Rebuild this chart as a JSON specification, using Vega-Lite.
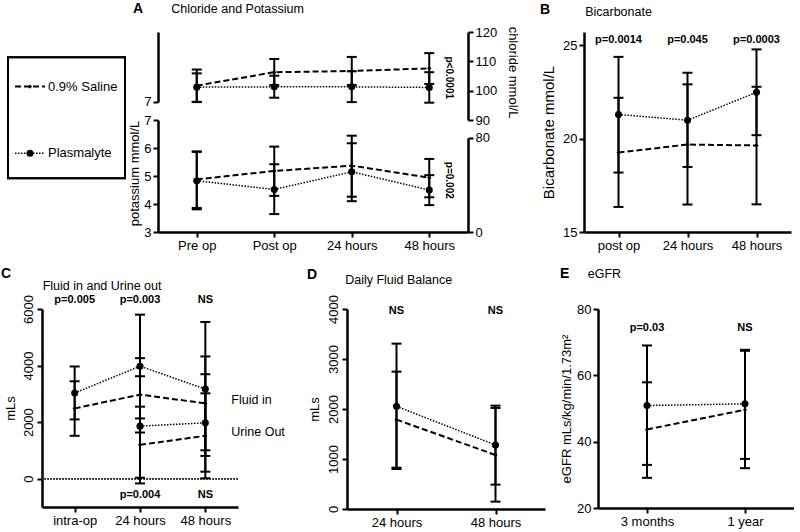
{
"$schema": "https://vega.github.io/schema/vega-lite/v6.json",
"padding": {"left": 1, "top": 2, "right": 0, "bottom": 0},
"config": {
  "font": "Liberation Sans",
  "view": {"stroke": null},
  "axis": {"domainColor": "black", "domainWidth": 2.5, "tickColor": "black", "tickWidth": 2, "tickSize": 5, "labelColor": "black", "labelFont": "Liberation Sans", "labelFontSize": 13, "titleFont": "Liberation Sans", "titleFontSize": 13, "titleFontWeight": "normal", "titleColor": "black", "grid": false, "labelPadding": 2, "titlePadding": 4},
  "title": {"font": "Liberation Sans", "fontSize": 14, "fontWeight": "bold", "color": "black", "anchor": "start", "frame": "group", "subtitleFont": "Liberation Sans", "subtitleFontSize": 12.5, "subtitleColor": "black", "subtitleFontWeight": "normal"}
},
"datasets": {
  "legend": [{"series": "0.9% Saline"}, {"series": "Plasmalyte"}],
  "chloride": [
    {"time": "Pre op", "series": "0.9% Saline", "mean": 101.7, "lo": 96.1, "hi": 107.2},
    {"time": "Post op", "series": "0.9% Saline", "mean": 106.3, "lo": 101.9, "hi": 110.8},
    {"time": "24 hours", "series": "0.9% Saline", "mean": 106.7, "lo": 101.9, "hi": 111.5},
    {"time": "48 hours", "series": "0.9% Saline", "mean": 107.6, "lo": 102.3, "hi": 112.8},
    {"time": "Pre op", "series": "Plasmalyte", "mean": 101.2, "lo": 96.2, "hi": 105.9},
    {"time": "Post op", "series": "Plasmalyte", "mean": 101.3, "lo": 97.6, "hi": 105.1},
    {"time": "24 hours", "series": "Plasmalyte", "mean": 101.3, "lo": 96.1, "hi": 106.6},
    {"time": "48 hours", "series": "Plasmalyte", "mean": 101.1, "lo": 95.9, "hi": 106.3}
  ],
  "potassium": [
    {"time": "Pre op", "series": "0.9% Saline", "mean": 4.88, "lo": 3.86, "hi": 5.88},
    {"time": "Post op", "series": "0.9% Saline", "mean": 5.18, "lo": 4.29, "hi": 6.05},
    {"time": "24 hours", "series": "0.9% Saline", "mean": 5.37, "lo": 4.26, "hi": 6.44},
    {"time": "48 hours", "series": "0.9% Saline", "mean": 4.94, "lo": 4.24, "hi": 5.61},
    {"time": "Pre op", "series": "Plasmalyte", "mean": 4.83, "lo": 3.81, "hi": 5.86},
    {"time": "Post op", "series": "Plasmalyte", "mean": 4.52, "lo": 3.64, "hi": 5.42},
    {"time": "24 hours", "series": "Plasmalyte", "mean": 5.15, "lo": 4.10, "hi": 6.17},
    {"time": "48 hours", "series": "Plasmalyte", "mean": 4.50, "lo": 3.96, "hi": 5.03}
  ],
  "pA1": [{"time": "48 hours", "label": "p<0.0001", "y": 104.4}],
  "pA2": [{"time": "48 hours", "label": "p=0.002", "y": 44.0}],
  "bicarb": [
    {"time": "post op", "series": "0.9% Saline", "mean": 19.25, "lo": 16.34, "hi": 22.18},
    {"time": "24 hours", "series": "0.9% Saline", "mean": 19.68, "lo": 16.47, "hi": 22.9},
    {"time": "48 hours", "series": "0.9% Saline", "mean": 19.63, "lo": 16.48, "hi": 22.77},
    {"time": "post op", "series": "Plasmalyte", "mean": 21.29, "lo": 18.18, "hi": 24.37},
    {"time": "24 hours", "series": "Plasmalyte", "mean": 20.98, "lo": 18.48, "hi": 23.52},
    {"time": "48 hours", "series": "Plasmalyte", "mean": 22.47, "lo": 20.18, "hi": 24.77}
  ],
  "pB": [
    {"time": "post op", "label": "p=0.0014", "y": 25.27},
    {"time": "24 hours", "label": "p=0.045", "y": 25.27},
    {"time": "48 hours", "label": "p=0.0003", "y": 25.27}
  ],
  "fluid": [
    {"time": "intra-op", "series": "0.9% Saline", "measure": "Fluid in", "mean": 2486, "lo": 1517, "hi": 3445},
    {"time": "24 hours", "series": "0.9% Saline", "measure": "Fluid in", "mean": 2973, "lo": 1634, "hi": 4262},
    {"time": "48 hours", "series": "0.9% Saline", "measure": "Fluid in", "mean": 2664, "lo": 1005, "hi": 4323},
    {"time": "intra-op", "series": "Plasmalyte", "measure": "Fluid in", "mean": 3030, "lo": 2096, "hi": 3968},
    {"time": "24 hours", "series": "Plasmalyte", "measure": "Fluid in", "mean": 3978, "lo": 2131, "hi": 5800},
    {"time": "48 hours", "series": "Plasmalyte", "measure": "Fluid in", "mean": 3172, "lo": 806, "hi": 5541},
    {"time": "24 hours", "series": "0.9% Saline", "measure": "Urine out", "mean": 1197, "lo": -167, "hi": 2547},
    {"time": "48 hours", "series": "0.9% Saline", "measure": "Urine out", "mean": 1517, "lo": 15, "hi": 3019},
    {"time": "24 hours", "series": "Plasmalyte", "measure": "Urine out", "mean": 1858, "lo": 35, "hi": 3623},
    {"time": "48 hours", "series": "Plasmalyte", "measure": "Urine out", "mean": 1978, "lo": 249, "hi": 3694}
  ],
  "pC": [
    {"time": "intra-op", "label": "p=0.005", "y": 6310},
    {"time": "24 hours", "label": "p=0.003", "y": 6310},
    {"time": "48 hours", "label": "NS", "y": 6310},
    {"time": "24 hours", "label": "p=0.004", "y": -586},
    {"time": "48 hours", "label": "NS", "y": -586}
  ],
  "labC": [
    {"time": "48 hours", "label": "Fluid in", "y": 2773},
    {"time": "48 hours", "label": "Urine Out", "y": 1642}
  ],
  "balance": [
    {"time": "24 hours", "series": "0.9% Saline", "mean": 1787, "lo": 827, "hi": 2747},
    {"time": "48 hours", "series": "0.9% Saline", "mean": 1080, "lo": 147, "hi": 2020},
    {"time": "24 hours", "series": "Plasmalyte", "mean": 2053, "lo": 800, "hi": 3307},
    {"time": "48 hours", "series": "Plasmalyte", "mean": 1280, "lo": 487, "hi": 2067}
  ],
  "pD": [
    {"time": "24 hours", "label": "NS", "y": 3954},
    {"time": "48 hours", "label": "NS", "y": 3954}
  ],
  "egfr": [
    {"time": "3 months", "series": "0.9% Saline", "mean": 43.7, "lo": 29.1, "hi": 57.9},
    {"time": "1 year", "series": "0.9% Saline", "mean": 49.6, "lo": 32.0, "hi": 67.4},
    {"time": "3 months", "series": "Plasmalyte", "mean": 50.9, "lo": 33.0, "hi": 69.0},
    {"time": "1 year", "series": "Plasmalyte", "mean": 51.4, "lo": 34.8, "hi": 67.7}
  ],
  "pE": [
    {"time": "3 months", "label": "p=0.03", "y": 74.3},
    {"time": "1 year", "label": "NS", "y": 74.3}
  ]
},
"spacing": 14,
"vconcat": [
 {"spacing": 53, "bounds": "flush", "hconcat": [
 {"width": 63, "height": 200,
  "data": {"name": "legend"},
  "layer": [
   {"mark": {"type": "rect", "fill": "white", "fillOpacity": 0, "stroke": "black", "strokeWidth": 2},
    "encoding": {"x": {"datum": 0, "type": "quantitative", "scale": {"domain": [0.2906, 0.8291], "nice": false, "zero": false}, "axis": null}, "x2": {"datum": 1},
                 "y": {"datum": 0, "type": "quantitative", "scale": {"domain": [-0.444, 1.209], "nice": false, "zero": false}, "axis": null}, "y2": {"datum": 1}}},
   {"mark": {"type": "rule", "color": "black"},
    "encoding": {"x": {"datum": 0.06, "type": "quantitative"}, "x2": {"datum": 0.316},
                 "y": {"field": "series", "type": "nominal", "scale": {"type": "point", "padding": 1.318, "align": 0.409}, "axis": null},
                 "strokeDash": {"field": "series", "type": "nominal", "scale": {"domain": ["0.9% Saline", "Plasmalyte"], "range": [[6, 3], [1.5, 1.5]]}, "legend": null},
                 "strokeWidth": {"field": "series", "type": "ordinal", "scale": {"domain": ["0.9% Saline", "Plasmalyte"], "range": [2, 1.5]}, "legend": null}}},
   {"mark": {"type": "point", "filled": true, "opacity": 1, "color": "black"},
    "encoding": {"x": {"datum": 0.188, "type": "quantitative"},
                 "y": {"field": "series", "type": "nominal", "scale": {"type": "point", "padding": 1.318, "align": 0.409}, "axis": null},
                 "shape": {"field": "series", "type": "nominal", "scale": {"domain": ["0.9% Saline", "Plasmalyte"], "range": ["diamond", "circle"]}, "legend": null},
                 "size": {"field": "series", "type": "ordinal", "scale": {"domain": ["0.9% Saline", "Plasmalyte"], "range": [18, 50]}, "legend": null}}},
   {"mark": {"type": "text", "align": "left", "baseline": "middle", "fontSize": 13, "color": "black"},
    "encoding": {"x": {"datum": 0.342, "type": "quantitative"},
                 "y": {"field": "series", "type": "nominal", "scale": {"type": "point", "padding": 1.318, "align": 0.409}, "axis": null},
                 "text": {"field": "series"}}}
  ],
  "resolve": {"scale": {"y": "independent"}}
 },
 {"width": 310, "height": 200,
  "title": {"text": "A", "subtitle": "\u200b\u00a0\u00a0\u00a0\u00a0\u00a0\u00a0\u00a0\u00a0\u00a0\u00a0\u00a0Chloride and Potassium", "subtitlePadding": -13, "dx": -25, "offset": 10},
  "layer": [
   {"data": {"name": "chloride"},
    "layer": [
     {"mark": {"type": "rule", "strokeWidth": 2, "color": "black"},
      "encoding": {"x": {"field": "time", "type": "ordinal", "sort": ["Pre op", "Post op", "24 hours", "48 hours"], "scale": {"type": "point", "padding": 0.5}, "axis": {"title": null, "labelAngle": 0}},
                   "y": {"field": "lo", "type": "quantitative", "scale": {"domain": [51.82, 120], "nice": false, "zero": false}, "axis": {"orient": "right", "values": [90, 100, 110, 120], "title": "chloride mmol/L", "titlePadding": 9, "titleY": 40, "domainDash": [0, 112, 88, 200]}},
                   "y2": {"field": "hi"}}},
     {"mark": {"type": "tick", "thickness": 2, "size": 10, "color": "black", "opacity": 1},
      "encoding": {"x": {"field": "time", "type": "ordinal", "sort": ["Pre op", "Post op", "24 hours", "48 hours"], "scale": {"type": "point", "padding": 0.5}, "axis": {"title": null, "labelAngle": 0}}, "y": {"field": "lo", "type": "quantitative"}}},
     {"mark": {"type": "tick", "thickness": 2, "size": 10, "color": "black", "opacity": 1},
      "encoding": {"x": {"field": "time", "type": "ordinal", "sort": ["Pre op", "Post op", "24 hours", "48 hours"], "scale": {"type": "point", "padding": 0.5}, "axis": {"title": null, "labelAngle": 0}}, "y": {"field": "hi", "type": "quantitative"}}},
     {"mark": {"type": "line", "color": "black"},
      "encoding": {"x": {"field": "time", "type": "ordinal", "sort": ["Pre op", "Post op", "24 hours", "48 hours"], "scale": {"type": "point", "padding": 0.5}, "axis": {"title": null, "labelAngle": 0}}, "y": {"field": "mean", "type": "quantitative"},
                   "strokeDash": {"field": "series", "type": "nominal", "scale": {"domain": ["0.9% Saline", "Plasmalyte"], "range": [[6, 3], [1.5, 1.5]]}, "legend": null},
                   "strokeWidth": {"field": "series", "type": "ordinal", "scale": {"domain": ["0.9% Saline", "Plasmalyte"], "range": [2, 1.5]}, "legend": null}}},
     {"mark": {"type": "point", "filled": true, "opacity": 1, "color": "black"},
      "encoding": {"x": {"field": "time", "type": "ordinal", "sort": ["Pre op", "Post op", "24 hours", "48 hours"], "scale": {"type": "point", "padding": 0.5}, "axis": {"title": null, "labelAngle": 0}}, "y": {"field": "mean", "type": "quantitative"},
                   "shape": {"field": "series", "type": "nominal", "scale": {"domain": ["0.9% Saline", "Plasmalyte"], "range": ["diamond", "circle"]}, "legend": null},
                   "size": {"field": "series", "type": "ordinal", "scale": {"domain": ["0.9% Saline", "Plasmalyte"], "range": [18, 50]}, "legend": null}}}
    ]},
   {"data": {"name": "potassium"},
    "layer": [
     {"mark": {"type": "rule", "strokeWidth": 2, "color": "black"},
      "encoding": {"x": {"field": "time", "type": "ordinal", "sort": ["Pre op", "Post op", "24 hours", "48 hours"], "scale": {"type": "point", "padding": 0.5}, "axis": {"title": null, "labelAngle": 0}},
                   "y": {"field": "lo", "type": "quantitative", "scale": {"domain": [3, 10.143], "nice": false, "zero": false}, "axis": {"orient": "left", "values": [3, 4, 5, 6, 7], "title": "potassium mmol/L", "titlePadding": 2, "titleY": 141, "domainDash": [112, 200]}},
                   "y2": {"field": "hi"}}},
     {"mark": {"type": "tick", "thickness": 2, "size": 10, "color": "black", "opacity": 1},
      "encoding": {"x": {"field": "time", "type": "ordinal", "sort": ["Pre op", "Post op", "24 hours", "48 hours"], "scale": {"type": "point", "padding": 0.5}, "axis": {"title": null, "labelAngle": 0}}, "y": {"field": "lo", "type": "quantitative"}}},
     {"mark": {"type": "tick", "thickness": 2, "size": 10, "color": "black", "opacity": 1},
      "encoding": {"x": {"field": "time", "type": "ordinal", "sort": ["Pre op", "Post op", "24 hours", "48 hours"], "scale": {"type": "point", "padding": 0.5}, "axis": {"title": null, "labelAngle": 0}}, "y": {"field": "hi", "type": "quantitative"}}},
     {"mark": {"type": "line", "color": "black"},
      "encoding": {"x": {"field": "time", "type": "ordinal", "sort": ["Pre op", "Post op", "24 hours", "48 hours"], "scale": {"type": "point", "padding": 0.5}, "axis": {"title": null, "labelAngle": 0}}, "y": {"field": "mean", "type": "quantitative"},
                   "strokeDash": {"field": "series", "type": "nominal", "scale": {"domain": ["0.9% Saline", "Plasmalyte"], "range": [[6, 3], [1.5, 1.5]]}, "legend": null},
                   "strokeWidth": {"field": "series", "type": "ordinal", "scale": {"domain": ["0.9% Saline", "Plasmalyte"], "range": [2, 1.5]}, "legend": null}}},
     {"mark": {"type": "point", "filled": true, "opacity": 1, "color": "black"},
      "encoding": {"x": {"field": "time", "type": "ordinal", "sort": ["Pre op", "Post op", "24 hours", "48 hours"], "scale": {"type": "point", "padding": 0.5}, "axis": {"title": null, "labelAngle": 0}}, "y": {"field": "mean", "type": "quantitative"},
                   "shape": {"field": "series", "type": "nominal", "scale": {"domain": ["0.9% Saline", "Plasmalyte"], "range": ["diamond", "circle"]}, "legend": null},
                   "size": {"field": "series", "type": "ordinal", "scale": {"domain": ["0.9% Saline", "Plasmalyte"], "range": [18, 50]}, "legend": null}}}
    ]},
   {"data": {"name": "pA1"},
    "mark": {"type": "text", "angle": 90, "fontWeight": "bold", "fontSize": 10, "dy": -20, "align": "center", "baseline": "middle", "color": "black"},
    "encoding": {"x": {"field": "time", "type": "ordinal", "sort": ["Pre op", "Post op", "24 hours", "48 hours"], "scale": {"type": "point", "padding": 0.5}, "axis": {"title": null, "labelAngle": 0}},
                 "y": {"field": "y", "type": "quantitative", "scale": {"domain": [51.82, 120], "nice": false, "zero": false}, "axis": {"orient": "left", "values": [96.14], "labelExpr": "'7'", "title": null, "domainDash": [0, 130, 70, 200]}},
                 "text": {"field": "label"}}},
   {"data": {"name": "pA2"},
    "mark": {"type": "text", "angle": 90, "fontWeight": "bold", "fontSize": 10, "dy": -20, "align": "center", "baseline": "middle", "color": "black"},
    "encoding": {"x": {"field": "time", "type": "ordinal", "sort": ["Pre op", "Post op", "24 hours", "48 hours"], "scale": {"type": "point", "padding": 0.5}, "axis": {"title": null, "labelAngle": 0}},
                 "y": {"field": "y", "type": "quantitative", "scale": {"domain": [0, 170.2], "nice": false, "zero": false}, "axis": {"orient": "right", "values": [0, 80], "title": null, "domainDash": [94, 200]}},
                 "text": {"field": "label"}}}
  ],
  "resolve": {"scale": {"y": "independent"}}
 },
 {"width": 10, "height": 200, "data": {"values": [{}]}, "mark": {"type": "text", "text": ""}, "encoding": {}},
 {"width": 207, "height": 200,
  "title": {"text": "B", "subtitle": "\u200b\u00a0\u00a0\u00a0\u00a0\u00a0\u00a0\u00a0\u00a0\u00a0\u00a0\u00a0\u00a0\u00a0Bicarbonate", "subtitlePadding": -11, "dx": -44, "offset": 14},
  "data": {"name": "bicarb"},
  "layer": [
   {"mark": {"type": "rule", "strokeWidth": 2, "color": "black"},
    "encoding": {"x": {"field": "time", "type": "ordinal", "sort": ["post op", "24 hours", "48 hours"], "scale": {"type": "point", "padding": 0.5}, "axis": {"title": null, "labelAngle": 0}},
                 "y": {"field": "lo", "type": "quantitative", "scale": {"domain": [15, 25.7], "nice": false, "zero": false}, "axis": {"values": [15, 20, 25], "title": "Bicarbonate mmol/L", "titleFontSize": 15, "titlePadding": 6}},
                 "y2": {"field": "hi"}}},
   {"mark": {"type": "tick", "thickness": 2, "size": 10, "color": "black", "opacity": 1},
    "encoding": {"x": {"field": "time", "type": "ordinal", "sort": ["post op", "24 hours", "48 hours"], "scale": {"type": "point", "padding": 0.5}, "axis": {"title": null, "labelAngle": 0}}, "y": {"field": "lo", "type": "quantitative"}}},
   {"mark": {"type": "tick", "thickness": 2, "size": 10, "color": "black", "opacity": 1},
    "encoding": {"x": {"field": "time", "type": "ordinal", "sort": ["post op", "24 hours", "48 hours"], "scale": {"type": "point", "padding": 0.5}, "axis": {"title": null, "labelAngle": 0}}, "y": {"field": "hi", "type": "quantitative"}}},
   {"mark": {"type": "line", "color": "black"},
    "encoding": {"x": {"field": "time", "type": "ordinal", "sort": ["post op", "24 hours", "48 hours"], "scale": {"type": "point", "padding": 0.5}, "axis": {"title": null, "labelAngle": 0}}, "y": {"field": "mean", "type": "quantitative"},
                 "strokeDash": {"field": "series", "type": "nominal", "scale": {"domain": ["0.9% Saline", "Plasmalyte"], "range": [[6, 3], [1.5, 1.5]]}, "legend": null},
                 "strokeWidth": {"field": "series", "type": "ordinal", "scale": {"domain": ["0.9% Saline", "Plasmalyte"], "range": [2, 1.5]}, "legend": null}}},
   {"mark": {"type": "point", "filled": true, "opacity": 1, "color": "black"},
    "encoding": {"x": {"field": "time", "type": "ordinal", "sort": ["post op", "24 hours", "48 hours"], "scale": {"type": "point", "padding": 0.5}, "axis": {"title": null, "labelAngle": 0}}, "y": {"field": "mean", "type": "quantitative"},
                 "shape": {"field": "series", "type": "nominal", "scale": {"domain": ["0.9% Saline", "Plasmalyte"], "range": ["diamond", "circle"]}, "legend": null},
                 "size": {"field": "series", "type": "ordinal", "scale": {"domain": ["0.9% Saline", "Plasmalyte"], "range": [18, 50]}, "legend": null}}},
   {"data": {"name": "pB"},
    "mark": {"type": "text", "fontWeight": "bold", "fontSize": 11, "baseline": "middle", "color": "black"},
    "encoding": {"x": {"field": "time", "type": "ordinal", "sort": ["post op", "24 hours", "48 hours"], "scale": {"type": "point", "padding": 0.5}, "axis": {"title": null, "labelAngle": 0}},
                 "y": {"field": "y", "type": "quantitative"}, "text": {"field": "label"}}}
  ]
 }
 ]},
 {"spacing": 53, "bounds": "flush", "hconcat": [
 {"width": 196, "height": 198,
  "title": {"text": "C", "subtitle": "\u200b\u00a0\u00a0\u00a0\u00a0\u00a0\u00a0\u00a0\u00a0\u00a0\u00a0\u00a0\u00a0Fluid in and Urine out", "subtitlePadding": -1.25, "dx": -41, "offset": 2},
  "data": {"name": "fluid"},
  "layer": [
   {"mark": {"type": "rule", "strokeDash": [1.5, 1.5], "strokeWidth": 1.2, "color": "#333333"},
    "encoding": {"y": {"datum": 0, "type": "quantitative", "scale": {"domain": [-1000, 6000], "nice": false, "zero": false}, "axis": {"values": [0, 2000, 4000, 6000], "format": "d", "labelAngle": -90, "title": "mLs", "titlePadding": 5}}}},
   {"mark": {"type": "rule", "strokeWidth": 2, "color": "black"},
    "encoding": {"x": {"field": "time", "type": "ordinal", "sort": ["intra-op", "24 hours", "48 hours"], "scale": {"type": "point", "padding": 0.5}, "axis": {"title": null, "labelAngle": 0}},
                 "y": {"field": "lo", "type": "quantitative"}, "y2": {"field": "hi"}}},
   {"mark": {"type": "tick", "thickness": 2, "size": 10, "color": "black", "opacity": 1},
    "encoding": {"x": {"field": "time", "type": "ordinal", "sort": ["intra-op", "24 hours", "48 hours"], "scale": {"type": "point", "padding": 0.5}, "axis": {"title": null, "labelAngle": 0}}, "y": {"field": "lo", "type": "quantitative"}}},
   {"mark": {"type": "tick", "thickness": 2, "size": 10, "color": "black", "opacity": 1},
    "encoding": {"x": {"field": "time", "type": "ordinal", "sort": ["intra-op", "24 hours", "48 hours"], "scale": {"type": "point", "padding": 0.5}, "axis": {"title": null, "labelAngle": 0}}, "y": {"field": "hi", "type": "quantitative"}}},
   {"mark": {"type": "line", "color": "black"},
    "encoding": {"x": {"field": "time", "type": "ordinal", "sort": ["intra-op", "24 hours", "48 hours"], "scale": {"type": "point", "padding": 0.5}, "axis": {"title": null, "labelAngle": 0}}, "y": {"field": "mean", "type": "quantitative"},
                 "detail": {"field": "measure"},
                 "strokeDash": {"field": "series", "type": "nominal", "scale": {"domain": ["0.9% Saline", "Plasmalyte"], "range": [[6, 3], [1.5, 1.5]]}, "legend": null},
                 "strokeWidth": {"field": "series", "type": "ordinal", "scale": {"domain": ["0.9% Saline", "Plasmalyte"], "range": [2, 1.5]}, "legend": null}}},
   {"mark": {"type": "point", "filled": true, "opacity": 1, "color": "black"},
    "encoding": {"x": {"field": "time", "type": "ordinal", "sort": ["intra-op", "24 hours", "48 hours"], "scale": {"type": "point", "padding": 0.5}, "axis": {"title": null, "labelAngle": 0}}, "y": {"field": "mean", "type": "quantitative"},
                 "shape": {"field": "series", "type": "nominal", "scale": {"domain": ["0.9% Saline", "Plasmalyte"], "range": ["diamond", "circle"]}, "legend": null},
                 "size": {"field": "series", "type": "ordinal", "scale": {"domain": ["0.9% Saline", "Plasmalyte"], "range": [18, 50]}, "legend": null}}},
   {"data": {"name": "pC"},
    "mark": {"type": "text", "fontWeight": "bold", "fontSize": 11, "baseline": "middle", "color": "black"},
    "encoding": {"x": {"field": "time", "type": "ordinal", "sort": ["intra-op", "24 hours", "48 hours"], "scale": {"type": "point", "padding": 0.5}, "axis": {"title": null, "labelAngle": 0}},
                 "y": {"field": "y", "type": "quantitative"}, "text": {"field": "label"}}},
   {"data": {"name": "labC"},
    "mark": {"type": "text", "fontSize": 12.5, "align": "left", "baseline": "middle", "dx": 26, "color": "black"},
    "encoding": {"x": {"field": "time", "type": "ordinal", "sort": ["intra-op", "24 hours", "48 hours"], "scale": {"type": "point", "padding": 0.5}, "axis": {"title": null, "labelAngle": 0}},
                 "y": {"field": "y", "type": "quantitative"}, "text": {"field": "label"}}}
  ]
 },
 {"width": 3, "height": 198, "data": {"values": [{}]}, "mark": {"type": "text", "text": ""}, "encoding": {}},
 {"width": 198, "height": 200,
  "title": {"text": "D", "subtitle": "\u200b\u00a0\u00a0\u00a0\u00a0\u00a0\u00a0\u00a0\u00a0\u00a0\u00a0\u00a0Daily Fluid Balance", "subtitlePadding": -8.25, "dx": -40, "offset": 8},
  "data": {"name": "balance"},
  "layer": [
   {"mark": {"type": "rule", "strokeWidth": 2, "color": "black"},
    "encoding": {"x": {"field": "time", "type": "ordinal", "sort": ["24 hours", "48 hours"], "scale": {"type": "point", "padding": 0.5}, "axis": {"title": null, "labelAngle": 0}},
                 "y": {"field": "lo", "type": "quantitative", "scale": {"domain": [0, 4000], "nice": false, "zero": false}, "axis": {"values": [0, 1000, 2000, 3000, 4000], "format": "d", "labelAngle": -90, "title": "mLs", "titlePadding": 6}},
                 "y2": {"field": "hi"}}},
   {"mark": {"type": "tick", "thickness": 2, "size": 10, "color": "black", "opacity": 1},
    "encoding": {"x": {"field": "time", "type": "ordinal", "sort": ["24 hours", "48 hours"], "scale": {"type": "point", "padding": 0.5}, "axis": {"title": null, "labelAngle": 0}}, "y": {"field": "lo", "type": "quantitative"}}},
   {"mark": {"type": "tick", "thickness": 2, "size": 10, "color": "black", "opacity": 1},
    "encoding": {"x": {"field": "time", "type": "ordinal", "sort": ["24 hours", "48 hours"], "scale": {"type": "point", "padding": 0.5}, "axis": {"title": null, "labelAngle": 0}}, "y": {"field": "hi", "type": "quantitative"}}},
   {"mark": {"type": "line", "color": "black"},
    "encoding": {"x": {"field": "time", "type": "ordinal", "sort": ["24 hours", "48 hours"], "scale": {"type": "point", "padding": 0.5}, "axis": {"title": null, "labelAngle": 0}}, "y": {"field": "mean", "type": "quantitative"},
                 "strokeDash": {"field": "series", "type": "nominal", "scale": {"domain": ["0.9% Saline", "Plasmalyte"], "range": [[6, 3], [1.5, 1.5]]}, "legend": null},
                 "strokeWidth": {"field": "series", "type": "ordinal", "scale": {"domain": ["0.9% Saline", "Plasmalyte"], "range": [2, 1.5]}, "legend": null}}},
   {"mark": {"type": "point", "filled": true, "opacity": 1, "color": "black"},
    "encoding": {"x": {"field": "time", "type": "ordinal", "sort": ["24 hours", "48 hours"], "scale": {"type": "point", "padding": 0.5}, "axis": {"title": null, "labelAngle": 0}}, "y": {"field": "mean", "type": "quantitative"},
                 "shape": {"field": "series", "type": "nominal", "scale": {"domain": ["0.9% Saline", "Plasmalyte"], "range": ["diamond", "circle"]}, "legend": null},
                 "size": {"field": "series", "type": "ordinal", "scale": {"domain": ["0.9% Saline", "Plasmalyte"], "range": [18, 50]}, "legend": null}}},
   {"data": {"name": "pD"},
    "mark": {"type": "text", "fontWeight": "bold", "fontSize": 11, "baseline": "middle", "color": "black"},
    "encoding": {"x": {"field": "time", "type": "ordinal", "sort": ["24 hours", "48 hours"], "scale": {"type": "point", "padding": 0.5}, "axis": {"title": null, "labelAngle": 0}},
                 "y": {"field": "y", "type": "quantitative"}, "text": {"field": "label"}}}
  ]
 },
 {"width": 196, "height": 199,
  "title": {"text": "E", "subtitle": "\u200b\u00a0\u00a0\u00a0\u00a0\u00a0\u00a0\u00a0\u00a0eGFR", "subtitlePadding": -13, "dx": -38, "offset": 22},
  "data": {"name": "egfr"},
  "layer": [
   {"mark": {"type": "rule", "strokeWidth": 2, "color": "black"},
    "encoding": {"x": {"field": "time", "type": "ordinal", "sort": ["3 months", "1 year"], "scale": {"type": "point", "padding": 0.5}, "axis": {"title": null, "labelAngle": 0}},
                 "y": {"field": "lo", "type": "quantitative", "scale": {"domain": [20, 80], "nice": false, "zero": false}, "axis": {"values": [20, 40, 60, 80], "title": "eGFR mLs/kg/min/1.73m²", "titlePadding": 3}},
                 "y2": {"field": "hi"}}},
   {"mark": {"type": "tick", "thickness": 2, "size": 10, "color": "black", "opacity": 1},
    "encoding": {"x": {"field": "time", "type": "ordinal", "sort": ["3 months", "1 year"], "scale": {"type": "point", "padding": 0.5}, "axis": {"title": null, "labelAngle": 0}}, "y": {"field": "lo", "type": "quantitative"}}},
   {"mark": {"type": "tick", "thickness": 2, "size": 10, "color": "black", "opacity": 1},
    "encoding": {"x": {"field": "time", "type": "ordinal", "sort": ["3 months", "1 year"], "scale": {"type": "point", "padding": 0.5}, "axis": {"title": null, "labelAngle": 0}}, "y": {"field": "hi", "type": "quantitative"}}},
   {"mark": {"type": "line", "color": "black"},
    "encoding": {"x": {"field": "time", "type": "ordinal", "sort": ["3 months", "1 year"], "scale": {"type": "point", "padding": 0.5}, "axis": {"title": null, "labelAngle": 0}}, "y": {"field": "mean", "type": "quantitative"},
                 "strokeDash": {"field": "series", "type": "nominal", "scale": {"domain": ["0.9% Saline", "Plasmalyte"], "range": [[6, 3], [1.5, 1.5]]}, "legend": null},
                 "strokeWidth": {"field": "series", "type": "ordinal", "scale": {"domain": ["0.9% Saline", "Plasmalyte"], "range": [2, 1.5]}, "legend": null}}},
   {"mark": {"type": "point", "filled": true, "opacity": 1, "color": "black"},
    "encoding": {"x": {"field": "time", "type": "ordinal", "sort": ["3 months", "1 year"], "scale": {"type": "point", "padding": 0.5}, "axis": {"title": null, "labelAngle": 0}}, "y": {"field": "mean", "type": "quantitative"},
                 "shape": {"field": "series", "type": "nominal", "scale": {"domain": ["0.9% Saline", "Plasmalyte"], "range": ["diamond", "circle"]}, "legend": null},
                 "size": {"field": "series", "type": "ordinal", "scale": {"domain": ["0.9% Saline", "Plasmalyte"], "range": [18, 50]}, "legend": null}}},
   {"data": {"name": "pE"},
    "mark": {"type": "text", "fontWeight": "bold", "fontSize": 11, "baseline": "middle", "color": "black"},
    "encoding": {"x": {"field": "time", "type": "ordinal", "sort": ["3 months", "1 year"], "scale": {"type": "point", "padding": 0.5}, "axis": {"title": null, "labelAngle": 0}},
                 "y": {"field": "y", "type": "quantitative"}, "text": {"field": "label"}}}
  ]
 }
 ]}
]
}
